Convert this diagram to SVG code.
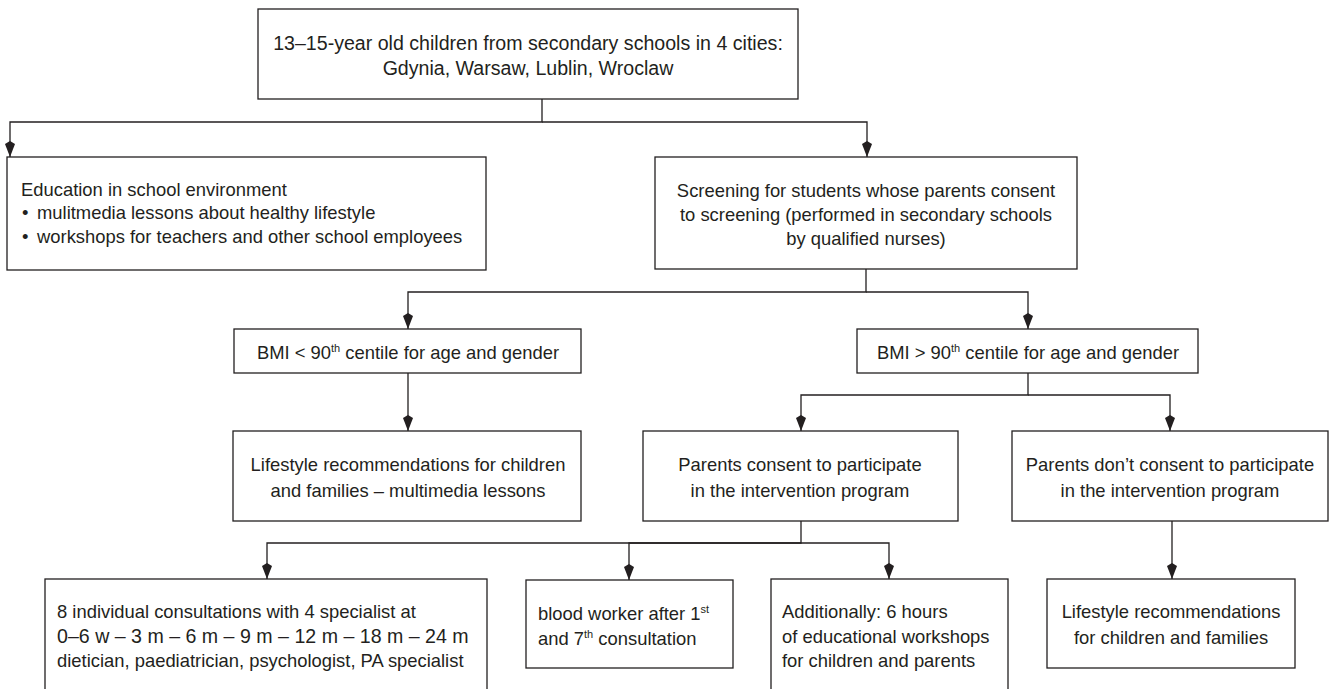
<svg xmlns="http://www.w3.org/2000/svg" width="1332" height="689" viewBox="0 0 1332 689">
<style>
.box{fill:#fff;stroke:#231f20;stroke-width:1.3}
.t{font-family:"Liberation Sans",Arial,sans-serif;font-size:18.4px;fill:#231f20}
.big{font-size:19.6px}
.c{text-anchor:middle}
.sup{font-size:11px}
.con{fill:none;stroke:#231f20;stroke-width:1.3}
</style>
<defs>
<marker id="arr" markerUnits="userSpaceOnUse" viewBox="-17 -6 18 12" refX="0" refY="0" markerWidth="18" markerHeight="12" orient="auto">
<path d="M0,0 L-13,-5 L-16,0 L-13,5 Z" fill="#231f20"/>
</marker>
</defs>
<rect width="1332" height="689" fill="#fff"/>
<g id="connectors">
<path class="con" d="M542,99 V122 H10 V157" marker-end="url(#arr)"/>
<path class="con" d="M542,122 H867 V157" marker-end="url(#arr)"/>
<path class="con" d="M866,269 V292 H408 V329" marker-end="url(#arr)"/>
<path class="con" d="M866,292 H1028 V329" marker-end="url(#arr)"/>
<path class="con" d="M408,373 V431" marker-end="url(#arr)"/>
<path class="con" d="M1028,373 V395 H801 V431" marker-end="url(#arr)"/>
<path class="con" d="M1028,395 H1170 V431" marker-end="url(#arr)"/>
<path class="con" d="M801,521 V543 H267 V579" marker-end="url(#arr)"/>
<path class="con" d="M801,543 H629 V580" marker-end="url(#arr)"/>
<path class="con" d="M801,543 H889 V579" marker-end="url(#arr)"/>
<path class="con" d="M1172,521 V579" marker-end="url(#arr)"/>
</g>
<g id="top">
<rect class="box" x="258" y="9" width="540" height="90"/>
<text class="t big c" x="528" y="50">13–15-year old children from secondary schools in 4 cities:</text>
<text class="t big c" x="528" y="75">Gdynia, Warsaw, Lublin, Wroclaw</text>
</g>
<g id="education">
<rect class="box" x="7" y="157" width="479" height="113"/>
<text class="t" x="21" y="196">Education in school environment</text>
<text class="t" x="22" y="219">•</text>
<text class="t" x="37" y="219">mulitmedia lessons about healthy lifestyle</text>
<text class="t" x="22" y="243">•</text>
<text class="t" x="37" y="243">workshops for teachers and other school employees</text>
</g>
<g id="screening">
<rect class="box" x="655" y="157" width="422" height="112"/>
<text class="t c" x="866" y="197">Screening for students whose parents consent</text>
<text class="t c" x="866" y="221">to screening (performed in secondary schools</text>
<text class="t c" x="866" y="245">by qualified nurses)</text>
</g>
<g id="bmiLow">
<rect class="box" x="234" y="329" width="347" height="44"/>
<text class="t c" x="408" y="359">BMI &lt; 90<tspan class="sup" dy="-7">th</tspan><tspan dy="7"> centile for age and gender</tspan></text>
</g>
<g id="bmiHigh">
<rect class="box" x="857" y="329" width="341" height="44"/>
<text class="t c" x="1028" y="359">BMI &gt; 90<tspan class="sup" dy="-7">th</tspan><tspan dy="7"> centile for age and gender</tspan></text>
</g>
<g id="lifestyleLow">
<rect class="box" x="233" y="431" width="348" height="90"/>
<text class="t c" x="408" y="471">Lifestyle recommendations for children</text>
<text class="t c" x="408" y="497">and families – multimedia lessons</text>
</g>
<g id="consent">
<rect class="box" x="643" y="431" width="315" height="90"/>
<text class="t c" x="800" y="471">Parents consent to participate</text>
<text class="t c" x="800" y="497">in the intervention program</text>
</g>
<g id="noConsent">
<rect class="box" x="1012" y="431" width="316" height="90"/>
<text class="t c" x="1170" y="471">Parents don’t consent to participate</text>
<text class="t c" x="1170" y="497">in the intervention program</text>
</g>
<g id="consultations">
<rect class="box" x="45" y="579" width="442" height="130"/>
<text class="t" x="57" y="618">8 individual consultations with 4 specialist at</text>
<text class="t big" x="57" y="643">0–6 w – 3 m – 6 m – 9 m – 12 m – 18 m – 24 m</text>
<text class="t" x="57" y="667">dietician, paediatrician, psychologist, PA specialist</text>
</g>
<g id="blood">
<rect class="box" x="526" y="580" width="207" height="88"/>
<text class="t" x="538" y="620">blood worker after 1<tspan class="sup" dy="-7">st</tspan></text>
<text class="t" x="538" y="645">and 7<tspan class="sup" dy="-7">th</tspan><tspan dy="7"> consultation</tspan></text>
</g>
<g id="workshops">
<rect class="box" x="771" y="579" width="237" height="130"/>
<text class="t" x="782" y="618">Additionally: 6 hours</text>
<text class="t" x="782" y="643">of educational workshops</text>
<text class="t" x="782" y="667">for children and parents</text>
</g>
<g id="lifestyleHigh">
<rect class="box" x="1047" y="579" width="248" height="89"/>
<text class="t c" x="1171" y="618">Lifestyle recommendations</text>
<text class="t c" x="1171" y="644">for children and families</text>
</g>
</svg>
